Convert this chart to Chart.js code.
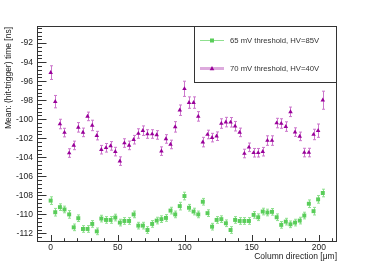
<!DOCTYPE html>
<html>
<head>
<meta charset="utf-8">
<script src="https://cdn.jsdelivr.net/npm/chart.js@4/dist/chart.umd.min.js"></script>
<style>
  html, body { margin: 0; padding: 0; background: #fff; }
</style>
</head>
<body>
<canvas id="chart" width="374" height="269"></canvas>
<script>
// column positions [um]
const columnPos = [0, 3.4, 6.9, 10.3, 13.8, 17.2, 20.6, 24.1, 27.5, 31.0,
  34.4, 37.8, 41.3, 44.7, 48.2, 51.6, 55.0, 58.5, 61.9, 65.4,
  68.8, 72.2, 75.7, 79.1, 82.6, 86.0, 89.4, 92.9, 96.3, 99.8,
  103.2, 106.6, 110.1, 113.5, 117.0, 120.4, 123.8, 127.3, 130.7, 134.2,
  137.6, 141.0, 144.5, 147.9, 151.4, 154.8, 158.2, 161.7, 165.1, 168.6,
  172.0, 175.4, 178.9, 182.3, 185.8, 189.2, 192.6, 196.1, 199.5, 203.0];

// 65 mV threshold, HV=85V
const greenMean = [-108.55, -109.77, -109.24, -109.48, -110.0, -111.36, -110.4, -111.53, -111.53, -111.0,
  -111.78, -110.44, -110.58, -110.58, -110.33, -110.86, -110.69, -110.69, -110.0, -111.18,
  -111.18, -111.64, -111.0, -110.65, -110.5, -110.37, -109.6, -110.0, -109.13, -108.07,
  -109.3, -109.7, -110.0, -108.67, -109.87, -111.29, -110.58, -110.5, -110.93, -111.64,
  -110.58, -110.69, -110.69, -110.69, -110.05, -110.3, -109.7, -109.8, -109.73, -110.3,
  -111.1, -110.76, -111.04, -110.86, -110.65, -110.12, -108.88, -109.66, -108.42, -107.75];
const greenErr = [0.4, 0.4, 0.35, 0.35, 0.4, 0.35, 0.35, 0.35, 0.35, 0.35,
  0.35, 0.35, 0.35, 0.35, 0.35, 0.35, 0.35, 0.35, 0.35, 0.35,
  0.35, 0.35, 0.35, 0.35, 0.35, 0.35, 0.35, 0.35, 0.4, 0.4,
  0.35, 0.35, 0.35, 0.35, 0.35, 0.35, 0.35, 0.35, 0.35, 0.35,
  0.35, 0.35, 0.35, 0.35, 0.35, 0.35, 0.35, 0.35, 0.35, 0.35,
  0.35, 0.35, 0.35, 0.35, 0.35, 0.35, 0.4, 0.4, 0.4, 0.4];

// 70 mV threshold, HV=40V
const purpleMean = [-95.1, -98.15, -100.5, -101.4, -103.55, -102.75, -100.85, -101.38, -99.7, -100.65,
  -101.72, -103.2, -103.0, -102.8, -103.4, -104.4, -102.5, -102.75, -102.15, -101.5,
  -101.2, -101.55, -101.55, -101.65, -103.35, -102.07, -102.65, -100.8, -99.05, -96.8,
  -98.25, -98.25, -99.7, -102.4, -101.6, -101.93, -101.78, -100.45, -100.3, -100.32,
  -100.73, -101.38, -103.6, -102.95, -103.52, -103.52, -103.41, -102.24, -102.24, -100.4,
  -100.45, -100.77, -99.22, -101.35, -101.8, -103.5, -103.5, -101.6, -101.2, -98.0];
const purpleErr = [0.72, 0.65, 0.5, 0.45, 0.45, 0.45, 0.5, 0.45, 0.45, 0.55,
  0.45, 0.45, 0.45, 0.45, 0.45, 0.45, 0.45, 0.45, 0.45, 0.5,
  0.5, 0.45, 0.45, 0.45, 0.45, 0.45, 0.45, 0.55, 0.55, 0.8,
  0.6, 0.6, 0.5, 0.5, 0.45, 0.45, 0.45, 0.5, 0.5, 0.5,
  0.5, 0.45, 0.45, 0.45, 0.45, 0.45, 0.45, 0.5, 0.5, 0.5,
  0.5, 0.5, 0.5, 0.45, 0.45, 0.45, 0.45, 0.55, 0.7, 0.95];

const seriesLabels = ["65 mV threshold, HV=85V", "70 mV threshold, HV=40V"];
const xTitle = "Column direction [\u03bcm]";
const yTitle = "Mean: (hit-trigger) time [ns]";

const FONT = "Liberation Sans, Arial, sans-serif";
const green = "#5acd5a", greenLight = "#8fe08f";
const purple = "#990099", purpleLight = "#cc77cc";

function points(ys) {
  return columnPos.map((x, i) => ({ x: x, y: ys[i] }));
}

// ROOT-like frame, inside ticks, error bars, titles and legend
const rootStyle = {
  id: "rootStyle",
  beforeDatasetsDraw(chart) {
    const ctx = chart.ctx, xs = chart.scales.x, ys = chart.scales.y;
    const errs = [greenErr, purpleErr];
    const cols = [greenLight, purpleLight];
    chart.data.datasets.forEach((ds, k) => {
      ctx.save();
      ctx.strokeStyle = cols[k];
      ctx.lineWidth = 1;
      ds.data.forEach((p, i) => {
        const px = Math.round(xs.getPixelForValue(p.x)) + 0.5;
        const y1 = ys.getPixelForValue(p.y + errs[k][i]);
        const y2 = ys.getPixelForValue(p.y - errs[k][i]);
        ctx.beginPath();
        ctx.moveTo(px, y1); ctx.lineTo(px, y2);
        ctx.moveTo(px - 1.5, y1); ctx.lineTo(px + 1.5, y1);
        ctx.moveTo(px - 1.5, y2); ctx.lineTo(px + 1.5, y2);
        ctx.stroke();
      });
      ctx.restore();
    });
  },
  afterDraw(chart) {
    const ctx = chart.ctx, a = chart.chartArea;
    const xs = chart.scales.x, ys = chart.scales.y;
    const L = Math.round(a.left) + 0.5, R = Math.round(a.right) - 0.5;
    const T = Math.round(a.top) + 0.5, B = Math.round(a.bottom) - 0.5;
    ctx.save();
    ctx.strokeStyle = "#333";
    ctx.lineWidth = 1;
    ctx.strokeRect(L, T, R - L, B - T);

    // y ticks (inside)
    ctx.beginPath();
    for (let k = Math.ceil(ys.min / 0.4); k <= Math.floor(ys.max / 0.4); k++) {
      const py = Math.round(ys.getPixelForValue(k * 0.4)) + 0.5;
      const len = (k % 5 === 0) ? 9 : 4.5;
      ctx.moveTo(L, py); ctx.lineTo(L + len, py);
    }
    // x ticks (inside)
    for (let k = Math.ceil(xs.min / 10); k <= Math.floor(xs.max / 10); k++) {
      const px = Math.round(xs.getPixelForValue(k * 10)) + 0.5;
      const len = (k % 5 === 0) ? 6.5 : 3.3;
      ctx.moveTo(px, B); ctx.lineTo(px, B - len);
    }
    ctx.stroke();

    // axis titles
    ctx.fillStyle = "#222";
    ctx.font = "8.5px " + FONT;
    ctx.textAlign = "right";
    ctx.textBaseline = "middle";
    ctx.fillText(xTitle, a.right, 257);
    ctx.save();
    ctx.translate(9, a.top + 1);
    ctx.rotate(-Math.PI / 2);
    ctx.fillText(yTitle, 0, 0);
    ctx.restore();

    // legend box
    const lx = 194.5, ly = T, lw = R - 194.5, lh = 56;
    ctx.fillStyle = "#fff";
    ctx.fillRect(lx, ly, lw, lh);
    ctx.strokeRect(lx, ly, lw, lh);
    const rows = [40.5, 68.5];
    // green entry
    ctx.strokeStyle = greenLight; ctx.lineWidth = 1;
    ctx.beginPath(); ctx.moveTo(200, rows[0]); ctx.lineTo(224, rows[0]); ctx.stroke();
    ctx.fillStyle = green;
    ctx.fillRect(210, rows[0] - 2, 4, 4);
    // purple entry
    ctx.strokeStyle = "#ddaadd"; ctx.lineWidth = 3;
    ctx.beginPath(); ctx.moveTo(200, rows[1]); ctx.lineTo(224, rows[1]); ctx.stroke();
    ctx.fillStyle = purple;
    ctx.beginPath();
    ctx.moveTo(212, rows[1] - 2.5); ctx.lineTo(214.3, rows[1] + 1.8); ctx.lineTo(209.7, rows[1] + 1.8);
    ctx.closePath(); ctx.fill();

    ctx.fillStyle = "#333";
    ctx.font = "7.7px " + FONT;
    ctx.textAlign = "left";
    ctx.fillText(seriesLabels[0], 230, rows[0]);
    ctx.fillText(seriesLabels[1], 230, rows[1]);
    ctx.restore();
  }
};

new Chart(document.getElementById("chart"), {
  type: "scatter",
  data: {
    datasets: [
      {
        label: seriesLabels[0],
        data: points(greenMean),
        pointStyle: "rect",
        pointRadius: 2.8,
        backgroundColor: green,
        borderColor: green,
        borderWidth: 0,
        showLine: false
      },
      {
        label: seriesLabels[1],
        data: points(purpleMean),
        pointStyle: "triangle",
        pointRadius: 2.6,
        backgroundColor: purple,
        borderColor: purple,
        borderWidth: 0,
        showLine: false
      }
    ]
  },
  options: {
    responsive: false,
    animation: false,
    devicePixelRatio: 1,
    layout: { padding: { left: 0, right: 37, top: 26, bottom: 0 } },
    plugins: { legend: { display: false }, tooltip: { enabled: false } },
    scales: {
      x: {
        type: "linear",
        min: -10.2,
        max: 213.6,
        grid: { display: false, drawTicks: false },
        border: { display: false },
        ticks: {
          stepSize: 50,
          includeBounds: false,
          autoSkip: false,
          maxRotation: 0,
          padding: 1,
          color: "#222",
          font: { family: FONT, size: 8.5 }
        },
        afterFit(scale) { scale.height = 27; }
      },
      y: {
        type: "linear",
        min: -112.9,
        max: -90.2,
        grid: { display: false, drawTicks: false },
        border: { display: false },
        ticks: {
          stepSize: 2,
          includeBounds: false,
          autoSkip: false,
          padding: 4,
          color: "#222",
          font: { family: FONT, size: 8.5 }
        },
        afterFit(scale) { scale.width = 37; }
      }
    }
  },
  plugins: [rootStyle]
});
</script>
</body>
</html>
